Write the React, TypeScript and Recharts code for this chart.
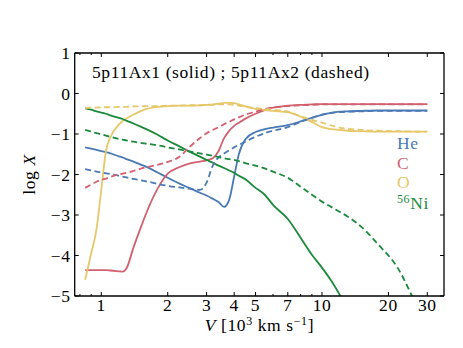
import { LineChart, Line, XAxis, YAxis } from 'recharts';

// velocity grid [10^3 km/s] and log mass fractions
const velocity = [
    0.845, 0.9, 0.95, 1.0, 1.05, 1.1, 1.2, 1.25, 1.3, 1.4, 1.5, 1.6, 1.8, 2.0, 2.25, 2.5, 2.8, 3.0, 3.2, 3.4,
    3.6, 3.8, 4.0, 4.2, 4.5, 5.0, 5.5, 6.0, 7.0, 8.0, 9.0, 10, 11, 12, 13, 15, 18, 22, 26, 30,
];

const heSolid = [
    -1.33, -1.36, -1.39, -1.42, -1.45, -1.48, -1.55, -1.58, -1.62, -1.68, -1.75, -1.81, -1.95, -2.08, -2.22, -2.33,
    -2.45, -2.52, -2.6, -2.68, -2.8, -2.62, -2.05, -1.5, -1.13, -0.95, -0.88, -0.84, -0.78, -0.69, -0.6, -0.53,
    -0.48, -0.45, -0.44, -0.43, -0.42, -0.42, -0.42, -0.42,
];
const heDashed = [
    -1.87, -1.9, -1.93, -1.95, -1.97, -1.99, -2.03, -2.05, -2.07, -2.11, -2.14, -2.17, -2.23, -2.28, -2.32, -2.35,
    -2.38, -2.2, -1.78, -1.58, -1.48, -1.4, -1.33, -1.27, -1.19, -1.07, -0.98, -0.92, -0.83, -0.7, -0.6, -0.52,
    -0.48, -0.46, -0.45, -0.44, -0.43, -0.43, -0.43, -0.43,
];
const cSolid = [
    -4.36, -4.36, -4.36, -4.36, -4.36, -4.37, -4.39, -4.4, -4.32, -3.8, -3.35, -2.95, -2.35, -1.98, -1.82, -1.73,
    -1.68, -1.65, -1.6, -1.42, -1.1, -0.92, -0.8, -0.72, -0.62, -0.5, -0.41, -0.35, -0.3, -0.28, -0.27, -0.26,
    -0.26, -0.26, -0.26, -0.26, -0.26, -0.26, -0.26, -0.26,
];
const cDashed = [
    -2.33, -2.25, -2.18, -2.13, -2.1, -2.06, -2.0, -1.98, -1.96, -1.91, -1.86, -1.82, -1.76, -1.69, -1.57, -1.33,
    -1.1, -0.98, -0.9, -0.83, -0.76, -0.7, -0.64, -0.59, -0.52, -0.45, -0.38, -0.35, -0.31, -0.29, -0.28, -0.27,
    -0.27, -0.27, -0.27, -0.27, -0.27, -0.27, -0.27, -0.27,
];
const oSolid = [
    -4.6, -3.95, -3.37, -2.38, -1.42, -1.08, -0.77, -0.68, -0.62, -0.52, -0.44, -0.38, -0.33, -0.31, -0.3, -0.3,
    -0.29, -0.28, -0.27, -0.25, -0.23, -0.23, -0.24, -0.27, -0.32, -0.38, -0.41, -0.43, -0.46, -0.57, -0.7, -0.83,
    -0.88, -0.9, -0.92, -0.93, -0.94, -0.94, -0.94, -0.94,
];
const oDashed = [
    -0.36, -0.35, -0.35, -0.34, -0.34, -0.34, -0.33, -0.33, -0.33, -0.32, -0.32, -0.31, -0.31, -0.3, -0.3, -0.29,
    -0.29, -0.28, -0.28, -0.27, -0.27, -0.27, -0.28, -0.3, -0.33, -0.36, -0.38, -0.4, -0.45, -0.56, -0.65, -0.72,
    -0.79, -0.84, -0.87, -0.9, -0.92, -0.93, -0.94, -0.94,
];
const niSolid = [
    -0.37, -0.4, -0.44, -0.47, -0.5, -0.54, -0.6, -0.63, -0.67, -0.74, -0.81, -0.88, -1.02, -1.16, -1.3, -1.43,
    -1.56, -1.64, -1.71, -1.78, -1.84, -1.9, -1.96, -2.03, -2.12, -2.33, -2.5, -2.75, -3.1, -3.56, -3.98, -4.3,
    -4.62, -4.96, -5.3, null, null, null, null, null,
];
const niDashed = [
    -0.9, -0.94, -0.98, -1.01, -1.04, -1.07, -1.12, -1.14, -1.16, -1.19, -1.22, -1.24, -1.28, -1.33, -1.38, -1.43,
    -1.48, -1.51, -1.54, -1.57, -1.6, -1.62, -1.64, -1.67, -1.72, -1.78, -1.85, -1.93, -2.08, -2.3, -2.5, -2.67,
    -2.8, -2.92, -3.03, -3.28, -3.73, -4.3, -5.08, -5.8,
];

const xTicks = [0.8, 0.9, 1, 2, 3, 4, 5, 6, 7, 8, 9, 10, 20, 30];
const xLabelled = [1, 2, 3, 4, 5, 7, 10, 20, 30];
const yTicks = [-5, -4, -3, -2, -1, 0, 1];

const HE = '#4a7ab5';
const C = '#d2606f';
const O = '#e6c76a';
const NI = '#1b8a3c';

const FONT = '"Liberation Serif", "DejaVu Serif", serif';
const FS = 17.5;
const LS = 0.6;

const data = velocity.map((v, i) => ({
    v,
    heSolid: heSolid[i],
    heDashed: heDashed[i],
    cSolid: cSolid[i],
    cDashed: cDashed[i],
    oSolid: oSolid[i],
    oDashed: oDashed[i],
    niSolid: niSolid[i],
    niDashed: niDashed[i],
}));

const fmt = (n: number) => (n < 0 ? `\u2212${Math.abs(n)}` : `${n}`);

const BottomTick = (props: any) => {
    const { x, y, payload } = props;
    const major = xLabelled.includes(payload.value);
    return (
        <g>
            <line x1={x} x2={x} y1={y} y2={y - (major ? 4 : 2)} stroke="#000" strokeWidth={1} />
            {major && (
                <text x={x} y={y + 15} textAnchor="middle" fontFamily={FONT} fontSize={FS} letterSpacing={LS} fill="#000">
                    {payload.value}
                </text>
            )}
        </g>
    );
};

const TopTick = (props: any) => {
    const { x, y, payload } = props;
    const major = xLabelled.includes(payload.value);
    return <line x1={x} x2={x} y1={y} y2={y + (major ? 4 : 2)} stroke="#000" strokeWidth={1} />;
};

const LeftTick = (props: any) => {
    const { x, y, payload } = props;
    return (
        <g>
            <line x1={x} x2={x + 4} y1={y} y2={y} stroke="#000" strokeWidth={1} />
            <text x={x - 4} y={y + 6} textAnchor="end" fontFamily={FONT} fontSize={FS} letterSpacing={LS} fill="#000">
                {fmt(payload.value)}
            </text>
        </g>
    );
};

const RightTick = (props: any) => {
    const { x, y } = props;
    return <line x1={x} x2={x - 4} y1={y} y2={y} stroke="#000" strokeWidth={1} />;
};

const series = [
    { key: 'heSolid', color: HE, dashed: false },
    { key: 'cSolid', color: C, dashed: false },
    { key: 'oSolid', color: O, dashed: false },
    { key: 'niSolid', color: NI, dashed: false },
    { key: 'heDashed', color: HE, dashed: true },
    { key: 'cDashed', color: C, dashed: true },
    { key: 'oDashed', color: O, dashed: true },
    { key: 'niDashed', color: NI, dashed: true },
];

const axisLine = { stroke: '#000', strokeWidth: 1.3 };

export default function App() {
    return (
        <div style={{ position: 'absolute', left: 0, top: 0, width: 463, height: 348, background: '#fff' }}>
            <LineChart width={463} height={348} data={data} margin={{ top: 52, right: 18, bottom: 51, left: 14.7 }}>
                <XAxis
                    xAxisId="b"
                    dataKey="v"
                    type="number"
                    scale="log"
                    domain={[0.7577, 35.72]}
                    allowDataOverflow
                    ticks={xTicks}
                    interval={0}
                    height={1}
                    tickSize={0}
                    tickMargin={0}
                    tickLine={false}
                    axisLine={axisLine}
                    tick={<BottomTick />}
                />
                <XAxis
                    xAxisId="t"
                    orientation="top"
                    dataKey="v"
                    type="number"
                    scale="log"
                    domain={[0.7577, 35.72]}
                    allowDataOverflow
                    ticks={xTicks}
                    interval={0}
                    height={1}
                    tickSize={0}
                    tickMargin={0}
                    tickLine={false}
                    axisLine={axisLine}
                    tick={<TopTick />}
                />
                <YAxis
                    yAxisId="l"
                    type="number"
                    domain={[-5, 1]}
                    allowDataOverflow
                    ticks={yTicks}
                    interval={0}
                    width={60}
                    tickSize={0}
                    tickMargin={0}
                    tickLine={false}
                    axisLine={axisLine}
                    tick={<LeftTick />}
                />
                <YAxis
                    yAxisId="r"
                    orientation="right"
                    type="number"
                    domain={[-5, 1]}
                    allowDataOverflow
                    ticks={yTicks}
                    interval={0}
                    width={1}
                    tickSize={0}
                    tickMargin={0}
                    tickLine={false}
                    axisLine={axisLine}
                    tick={<RightTick />}
                />
                {series.map((s) => (
                    <Line
                        key={s.key}
                        xAxisId="b"
                        yAxisId="l"
                        dataKey={s.key}
                        type="monotone"
                        stroke={s.color}
                        strokeWidth={1.8}
                        strokeDasharray={s.dashed ? '6 3.5' : undefined}
                        dot={false}
                        activeDot={false}
                        isAnimationActive={false}
                    />
                ))}
            </LineChart>
            <svg
                width={463}
                height={348}
                style={{ position: 'absolute', left: 0, top: 0, pointerEvents: 'none' }}
                fontFamily={FONT}
                fontSize={FS}
                letterSpacing={LS}
            >
                <text x={92} y={78} fill="#000">
                    5p11Ax1 (solid) ; 5p11Ax2 (dashed)
                </text>
                <text x={397} y={149} fill={HE}>He</text>
                <text x={397} y={168.5} fill={C}>C</text>
                <text x={397} y={187.5} fill={O}>O</text>
                <text x={397} y={208.5} fill={NI}>
                    <tspan fontSize={12} dy={-6}>56</tspan>
                    <tspan dy={6}>Ni</tspan>
                </text>
                <text x={259.4} y={331} textAnchor="middle" fill="#000">
                    <tspan fontStyle="italic">V</tspan>
                    <tspan> [10</tspan>
                    <tspan fontSize={12} dy={-6}>3</tspan>
                    <tspan dy={6}> km s</tspan>
                    <tspan fontSize={12} dy={-6}>{'\u22121'}</tspan>
                    <tspan dy={6}>]</tspan>
                </text>
                <text x={35} y={174.5} textAnchor="middle" fill="#000" transform="rotate(-90 35 174.5)">
                    <tspan>log </tspan>
                    <tspan fontStyle="italic">X</tspan>
                </text>
            </svg>
        </div>
    );
}
